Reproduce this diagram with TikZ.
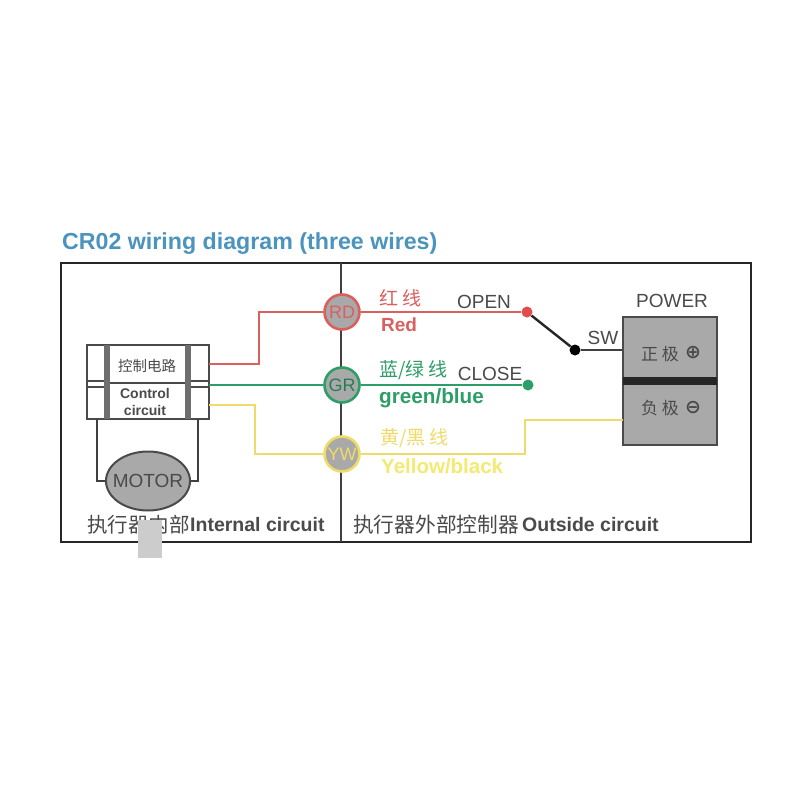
\documentclass[tikz,border=0pt]{standalone}
\usepackage{fontspec}
\usetikzlibrary{shapes.geometric}
\setmainfont{Liberation Sans}
\newfontfamily\cjk{Noto Sans CJK SC}
\newfontfamily\symb{DejaVu Sans}
\definecolor{wirered}{HTML}{D9605F}
\definecolor{wiregreen}{HTML}{2E9E68}
\definecolor{wireyellow}{HTML}{EFDB6A}
\definecolor{labelyellow}{HTML}{F3EA72}
\definecolor{titleblue}{HTML}{4A94BE}
\definecolor{boxgray}{HTML}{A9A9A9}
\definecolor{inkgray}{HTML}{4A4A4A}
\tikzset{
	textlab/.style={inner sep=0pt, text=inkgray},
	portnode/.style={circle, minimum size=35pt, inner sep=0pt, line width=2.6pt, fill=boxgray, font=\fontsize{18}{21}\selectfont},
	dotnode/.style={circle, minimum size=11pt, inner sep=0pt},
	wire/.style={line width=2.8pt},
	frameline/.style={line width=2.6pt, draw=black!85},
	thinline/.style={line width=2pt, draw=black!75}
}
\begin{document}
\begin{tikzpicture}[x=1pt, y=-1pt]
	\useasboundingbox (0,0) rectangle (800,800);
	\fill[white] (0,0) rectangle (800,800);
	
	\node[anchor=west, inner sep=0pt, text=titleblue, font=\fontsize{23.2}{26}\selectfont\bfseries] (title) at (62,244) {CR02 wiring diagram (three wires)};
	\draw[frameline] (61,263) rectangle (751,542);
	\draw[thinline] (341,263) -- (341,542);
	
	% actuator
	\node[draw=inkgray, line width=1.6pt, minimum width=122pt, minimum height=74pt, inner sep=0pt] (act) at (148,382) {};
	\fill[inkgray!80] (104,345) rectangle (110,419);
	\fill[inkgray!80] (185,345) rectangle (191,419);
	\draw[inkgray, line width=1.6pt] (110,383) -- (185,383);
	\draw[inkgray, line width=1.4pt] (87,381) -- (104,381) (87,387) -- (104,387);
	\draw[inkgray, line width=1.4pt] (191,381) -- (209,381) (191,387) -- (209,387);
	\node[textlab, font=\cjk\fontsize{14.5}{17}\selectfont] (ctrlcn) at (147,366) {控制电路};
	\node[textlab, align=center, font=\fontsize{14}{16.5}\selectfont\bfseries] (ctrlen) at (145,402) {Control\\circuit};
	
	% motor
	\node[ellipse, draw=inkgray, line width=2pt, fill=boxgray, minimum width=84pt, minimum height=59pt, inner sep=0pt] (motor) at (148,481) {};
	\node[textlab, font=\fontsize{19}{22}\selectfont] (motorlab) at (motor.center) {MOTOR};
	\coordinate (ml) at (97,419);
	\coordinate (mr) at (198,419);
	\draw[thinline] (ml) |- (motor.west);
	\draw[thinline] (mr) |- (motor.east);
	
	% ports
	\node[portnode, draw=wirered, text=wirered] (rd) at (342,312) {RD};
	\node[portnode, draw=wiregreen, text=wiregreen!80!black] (gr) at (342,385) {GR};
	\node[portnode, draw=wireyellow, text=wireyellow] (yw) at (342,454) {YW};
	
	% power
	\node[draw=inkgray, line width=1.6pt, fill=boxgray, minimum width=94pt, minimum height=128pt, inner sep=0pt] (power) at (670,381) {};
	\fill[black!85] (623,377) rectangle (717,385);
	\node[textlab, font=\fontsize{19}{22}\selectfont] (powerlab) at (672,301) {POWER};
	\node[textlab, font=\cjk\fontsize{17}{20}\selectfont] (pos) at (660,354) {正 极};
	\node[textlab, font=\symb\bfseries\fontsize{19}{22}\selectfont] (plus) at (693,353) {⊕};
	\node[textlab, font=\cjk\fontsize{17}{20}\selectfont] (neg) at (660,408) {负 极};
	\node[textlab, font=\symb\bfseries\fontsize{19}{22}\selectfont] (minus) at (693,408) {⊖};
	
	% switch
	\node[dotnode, fill=wirered!80!red] (open) at (527,312) {};
	\node[dotnode, fill=wiregreen] (close) at (528,385) {};
	\node[dotnode, fill=black] (sw) at (575,350) {};
	\draw[thinline, line width=2.4pt, draw=black!85] (open) -- (sw);
	\draw[thinline, line width=2.4pt] (sw) -- (sw -| power.west);
	\node[textlab, font=\fontsize{19}{22}\selectfont] (swlab) at (603,338) {SW};
	\node[textlab, font=\fontsize{19}{22}\selectfont] (openlab) at (484,302) {OPEN};
	\node[textlab, font=\fontsize{19}{22}\selectfont] (closelab) at (490,374) {CLOSE};
	
	% wires
	\coordinate (a1) at (209,364);
	\coordinate (a2) at (209,385);
	\coordinate (a3) at (209,405);
	\coordinate (p3) at (623,420);
	\draw[wire, wirered] (a1) -- (259,364) -- (259,312) -- (rd);
	\draw[wire, wirered] (rd) -- (open);
	\draw[wire, wiregreen] (a2) -- (gr);
	\draw[wire, wiregreen] (gr) -- (close);
	\draw[wire, wireyellow] (a3) -- (255,405) -- (255,454) -- (yw);
	\draw[wire, wireyellow] (yw) -- (525,454) -- (525,420) -- (p3);
	
	% wire labels
	\node[textlab, anchor=west, text=wirered, font=\cjk\fontsize{19}{22}\selectfont] (redcn) at (379,298) {红 线};
	\node[textlab, anchor=west, text=wirered, font=\fontsize{19}{22}\selectfont\bfseries] (reden) at (381,325) {Red};
	\node[textlab, anchor=west, text=wiregreen, font=\cjk\fontsize{19}{22}\selectfont] (greencn) at (379,370) {蓝/绿 线};
	\node[textlab, anchor=west, text=wiregreen, font=\fontsize{20.7}{24}\selectfont\bfseries] (greenen) at (379,398) {green/blue};
	\node[textlab, anchor=west, text=wireyellow, font=\cjk\fontsize{19}{22}\selectfont] (yellowcn) at (380,438) {黄/黑 线};
	\node[textlab, anchor=west, text=labelyellow, font=\fontsize{20.5}{24}\selectfont\bfseries] (yellowen) at (381,466) {Yellow/black};
	
	% captions
	\node[textlab, anchor=west, font=\cjk\fontsize{20.5}{24}\selectfont] (incn) at (87,525) {执行器内部};
	\node[textlab, anchor=west, font=\fontsize{19.5}{23}\selectfont\bfseries] (inen) at (190,525) {Internal circuit};
	\node[textlab, anchor=west, font=\cjk\fontsize{20.7}{24}\selectfont] (outcn) at (353,525) {执行器外部控制器};
	\node[textlab, anchor=west, font=\fontsize{19.5}{23}\selectfont\bfseries] (outen) at (522,525) {Outside circuit};
	\fill[black!20] (138,520) rectangle (162,558);
	
\end{tikzpicture}
\end{document}
